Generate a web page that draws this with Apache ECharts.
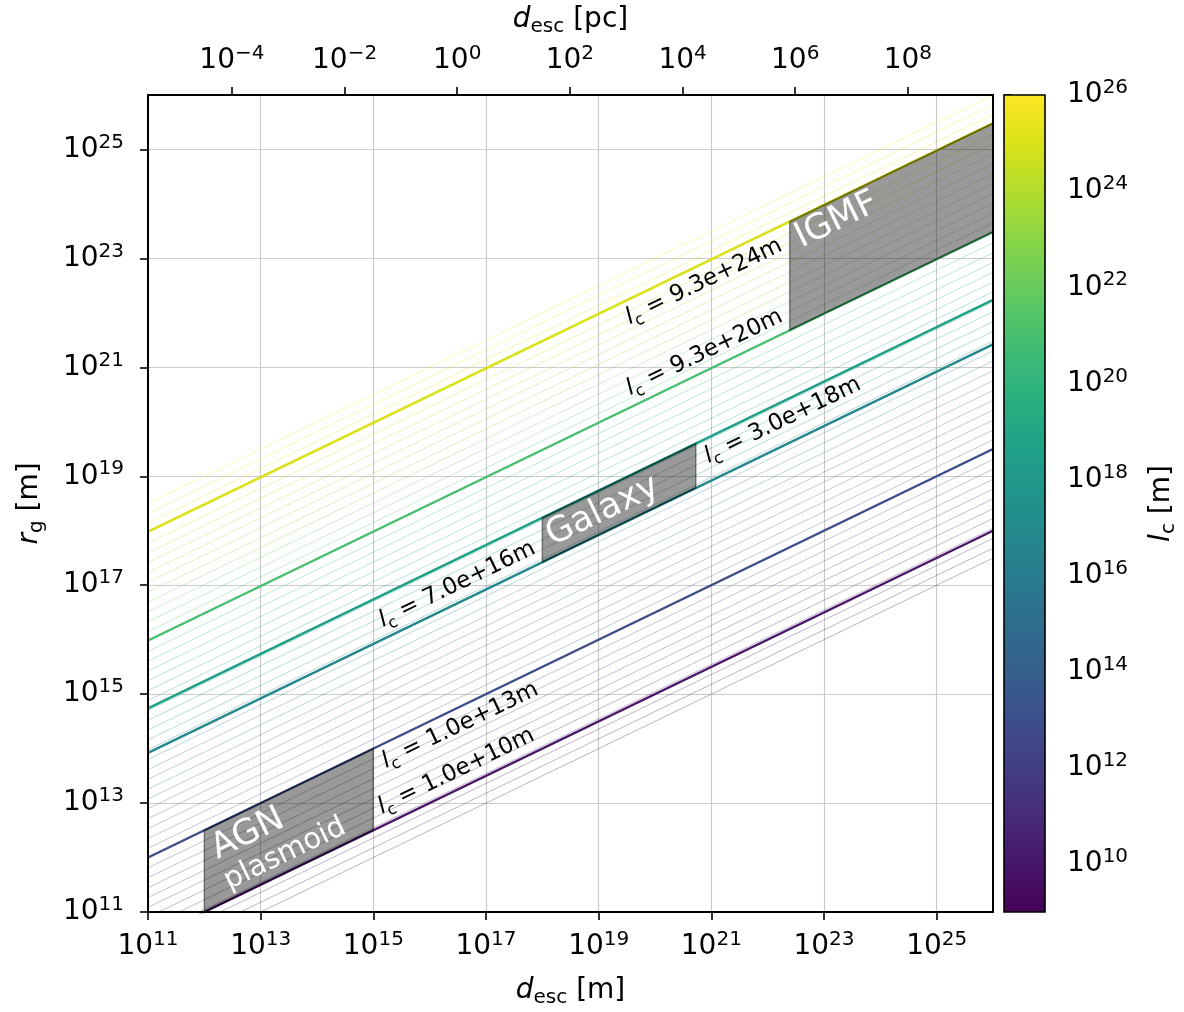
<!DOCTYPE html>
<html>
<head>
<meta charset="utf-8">
<script src="https://cdn.jsdelivr.net/npm/echarts@6/dist/echarts.min.js"></script>
<style>html,body{margin:0;padding:0;background:#fff}#chart{width:1184px;height:1012px}</style>
</head>
<body>
<div id="chart"></div>
<script>
// ---------------- data ----------------
const dRange = [1e11, 1e26];          // d_esc axis range [m]
const rgRange = [1e11, 1e26];         // r_g axis range [m]
const lcRange = [1e9, 1e26];          // colorbar range l_c [m]
const PC_IN_M = 3.0857e16;
const xTickValues = [1e11, 1e13, 1e15, 1e17, 1e19, 1e21, 1e23, 1e25];
const yTickValues = [1e11, 1e13, 1e15, 1e17, 1e19, 1e21, 1e23, 1e25];
const pcTickValues = [1e-4, 1e-2, 1e0, 1e2, 1e4, 1e6, 1e8];
const cbTickValues = [1e10, 1e12, 1e14, 1e16, 1e18, 1e20, 1e22, 1e24, 1e26];
// thin background lines: log10(l_c)
const thinLcExponents = [9.00, 9.36, 9.72, 10.09, 10.45, 10.81, 11.17, 11.53, 11.89, 12.26,
  12.62, 12.98, 13.34, 13.70, 14.06, 14.43, 14.79, 15.15, 15.51, 15.87, 16.23, 16.60,
  16.96, 17.32, 17.68, 18.04, 18.40, 18.77, 19.13, 19.49, 19.85, 20.21, 20.57, 20.94,
  21.30, 21.66, 22.02, 22.38, 22.74, 23.11, 23.47, 23.83, 24.19, 24.55, 24.91, 25.28,
  25.64, 26.00];
// shaded regions
const bandNames = ['AGN', 'Galaxy', 'IGMF'];
const bandDMin = [1e12, 1e18, 2.46e22];
const bandDMax = [1e15, 5.3e20, 1e26];
const bandLcLow = [1.0e10, 7.0e16, 9.3e20];
const bandLcHigh = [1.0e13, 3.0e18, 9.3e24];
// l_c labels
const lcLabelValues = [1.0e13, 1.0e10, 7.0e16, 3.0e18, 9.3e20, 9.3e24];
const lcLabelAnchorD = [1e15, 1e15, 1e18, 5.3e20, 2.46e22, 2.46e22];
const lcLabelSide = ['below', 'above', 'above', 'below', 'above', 'below'];
const lcLabelAlign = ['left', 'left', 'right', 'left', 'right', 'right'];
// region name texts
const regionTexts = ['AGN', 'plasmoid', 'Galaxy', 'IGMF'];
const regionTextD = [5.94e12, 2.70e13, 1.18e19, 1.68e23];
const regionTextRg = [2.70e12, 1.16e12, 2.28e18, 4.98e23];

// ---------------- helpers ----------------
const FONT = 'DejaVu Sans';
const regionTextSize = [35, 29, 35, 35];
const VIRIDIS = ['#440154', '#48186a', '#472d7b', '#424086', '#3b528b', '#33638d', '#2c728e',
  '#26828e', '#21918c', '#1fa088', '#28ae80', '#3fbc73', '#5ec962', '#84d44b', '#addc30',
  '#d8e219', '#fde725'];
function hex2rgb(h) { return [parseInt(h.slice(1, 3), 16), parseInt(h.slice(3, 5), 16), parseInt(h.slice(5, 7), 16)]; }
function viridis(t) {
  t = Math.max(0, Math.min(1, t));
  const n = VIRIDIS.length - 1;
  const i = Math.min(n - 1, Math.floor(t * n));
  const f = t * n - i;
  const a = hex2rgb(VIRIDIS[i]), b = hex2rgb(VIRIDIS[i + 1]);
  const c = a.map((v, k) => Math.round(v + (b[k] - v) * f));
  return 'rgb(' + c.join(',') + ')';
}
function lcColor(lc) {
  const l0 = Math.log10(lcRange[0]), l1 = Math.log10(lcRange[1]);
  return viridis((Math.log10(lc) - l0) / (l1 - l0));
}
function rg(d, lc) { return Math.sqrt(d * lc); }
function supLabel(e) {
  const s = e < 0 ? '\u2212' + Math.abs(e) : String(e);
  return '{b|10}{s|' + s + '}';
}
const tickRich = {
  b: { fontFamily: FONT, fontSize: 28, color: '#000', lineHeight: 34 },
  s: { fontFamily: FONT, fontSize: 20, color: '#000', lineHeight: 18, verticalAlign: 'top' }
};
const nameStyle = {
  fontFamily: FONT, fontSize: 28, color: '#000', lineHeight: 34,
  rich: {
    i: { fontFamily: FONT, fontSize: 28, fontStyle: 'italic', color: '#000', lineHeight: 34 },
    s: { fontFamily: FONT, fontSize: 20, color: '#000', lineHeight: 24, verticalAlign: 'bottom' }
  }
};
function slopeAngle(api) {
  const a = api.coord([1e11, 1e11]);
  const b = api.coord([1e25, 1e18]);
  return Math.atan2(a[1] - b[1], b[0] - a[0]);
}
const black = '#000';

// ---------------- series ----------------
const series = [];
thinLcExponents.forEach(function (e) {
  const lc = Math.pow(10, e);
  series.push({
    type: 'line', xAxisIndex: 0, yAxisIndex: 0, silent: true, animation: false,
    symbol: 'none', clip: true, z: 2,
    data: dRange.map(d => [d, rg(d, lc)]),
    lineStyle: { color: lcColor(lc), width: 1, opacity: 0.32 }
  });
});
const thickLc = bandLcLow.concat(bandLcHigh);
thickLc.forEach(function (lc) {
  series.push({
    type: 'line', xAxisIndex: 0, yAxisIndex: 0, silent: true, animation: false,
    symbol: 'none', clip: true, z: 3,
    data: dRange.map(d => [d, rg(d, lc)]),
    lineStyle: { color: lcColor(lc), width: 2.4, opacity: 1 }
  });
});
// shaded regions
series.push({
  type: 'custom', xAxisIndex: 0, yAxisIndex: 0, silent: true, animation: false, z: 5, clip: true,
  data: bandNames.map((n, i) => [bandDMin[i], rg(bandDMin[i], bandLcLow[i])]),
  renderItem: function (params, api) {
    const i = params.dataIndex;
    const d0 = bandDMin[i], d1 = bandDMax[i], lo = bandLcLow[i], hi = bandLcHigh[i];
    const pts = [[d0, rg(d0, lo)], [d1, rg(d1, lo)], [d1, rg(d1, hi)], [d0, rg(d0, hi)]].map(p => api.coord(p));
    return { type: 'polygon', shape: { points: pts },
      style: { fill: 'rgba(0,0,0,0.4)', stroke: 'rgba(0,0,0,0.4)', lineWidth: 1.6 } };
  }
});
// l_c labels
series.push({
  type: 'custom', xAxisIndex: 0, yAxisIndex: 0, silent: true, animation: false, z: 8,
  data: lcLabelValues.map((lc, i) => [lcLabelAnchorD[i], rg(lcLabelAnchorD[i], lc)]),
  renderItem: function (params, api) {
    const i = params.dataIndex;
    const lc = lcLabelValues[i], d = lcLabelAnchorD[i];
    const p = api.coord([d, rg(d, lc)]);
    const th = slopeAngle(api);
    const ux = Math.cos(th), uy = -Math.sin(th);
    const nx = Math.sin(th), ny = Math.cos(th);
    const left = lcLabelAlign[i] === 'left', below = lcLabelSide[i] === 'below';
    const along = left ? (below ? 3 : 15) : (below ? -18 : -1);
    const perp = below ? 2 : -2;
    const txt = '{i|l}{s|c} = ' + lc.toExponential(1) + 'm';
    return {
      type: 'text', x: p[0] + ux * along + nx * perp, y: p[1] + uy * along + ny * perp, rotation: th,
      style: {
        text: txt, fill: black, fontFamily: FONT, fontSize: 23, lineHeight: 30,
        align: lcLabelAlign[i], verticalAlign: below ? 'top' : 'bottom',
        rich: {
          i: { fontFamily: FONT, fontSize: 23, fontStyle: 'italic', lineHeight: 30, fill: black },
          s: { fontFamily: FONT, fontSize: 16, lineHeight: 20, verticalAlign: 'bottom', fill: black }
        }
      }
    };
  }
});
// region names
series.push({
  type: 'custom', xAxisIndex: 0, yAxisIndex: 0, silent: true, animation: false, z: 8,
  data: regionTexts.map((t, i) => [regionTextD[i], regionTextRg[i]]),
  renderItem: function (params, api) {
    const i = params.dataIndex;
    const p = api.coord([regionTextD[i], regionTextRg[i]]);
    return {
      type: 'text', x: p[0], y: p[1], rotation: slopeAngle(api),
      style: { text: regionTexts[i], fill: '#fff', fontFamily: FONT, fontSize: regionTextSize[i],
        align: 'center', verticalAlign: 'middle' }
    };
  }
});
// frame of the main axes
series.push({
  type: 'custom', xAxisIndex: 0, yAxisIndex: 0, silent: true, animation: false, z: 20, clip: false,
  data: [[dRange[0], rgRange[0]]],
  renderItem: function (params, api) {
    const a = api.coord([dRange[0], rgRange[0]]), b = api.coord([dRange[1], rgRange[1]]);
    return { type: 'rect', shape: { x: a[0], y: b[1], width: b[0] - a[0], height: a[1] - b[1] },
      style: { fill: 'none', stroke: black, lineWidth: 2 } };
  }
});
// colorbar
const cbStops = [];
for (let k = 0; k <= 64; k++) cbStops.push({ offset: k / 64, color: viridis(k / 64) });
series.push({
  type: 'custom', xAxisIndex: 2, yAxisIndex: 2, silent: true, animation: false, z: 5, clip: false,
  data: [[0, lcRange[0]]],
  renderItem: function (params, api) {
    const a = api.coord([0, lcRange[0]]), b = api.coord([1, lcRange[1]]);
    return { type: 'rect', shape: { x: a[0], y: b[1], width: b[0] - a[0], height: a[1] - b[1] },
      style: { fill: new echarts.graphic.LinearGradient(0, 1, 0, 0, cbStops), stroke: black, lineWidth: 1.6 } };
  }
});

const chart = echarts.init(document.getElementById('chart'), null, { renderer: 'canvas' });
chart.setOption({
  animation: false,
  backgroundColor: '#fff',
  grid: [
    { left: 148, top: 95, width: 845, height: 817, containLabel: false, outerBoundsMode: 'none' },
    { left: 1004, top: 95, width: 41, height: 817, containLabel: false, outerBoundsMode: 'none' }
  ],
  xAxis: [
    {
      type: 'log', gridIndex: 0, min: dRange[0], max: dRange[1], position: 'bottom',
      axisLine: { show: true, onZero: false, lineStyle: { color: black, width: 2 } },
      axisTick: { show: true, length: 8, inside: false, lineStyle: { color: black, width: 1.6 }, customValues: xTickValues },
      axisLabel: { show: true, customValues: xTickValues, margin: 18, formatter: v => supLabel(Math.round(Math.log10(v))), rich: tickRich, color: black },
      splitLine: { show: true, lineStyle: { color: '#cbcbcb', width: 1.2 } },
      minorTick: { show: false }, minorSplitLine: { show: false },
      name: '{i|d}{s|esc} [m]', nameLocation: 'middle', nameGap: 62, nameTextStyle: nameStyle, nameMoveOverlap: false
    },
    {
      type: 'log', gridIndex: 0, min: dRange[0], max: dRange[1], position: 'top',
      axisLine: { show: true, onZero: false, lineStyle: { color: black, width: 2 } },
      axisTick: { show: true, length: 8, inside: false, lineStyle: { color: black, width: 1.6 }, customValues: pcTickValues.map(v => v * PC_IN_M) },
      axisLabel: { show: true, customValues: pcTickValues.map(v => v * PC_IN_M), margin: 17, formatter: v => supLabel(Math.round(Math.log10(v / PC_IN_M))), rich: tickRich, color: black },
      splitLine: { show: false }, minorTick: { show: false },
      name: '{i|d}{s|esc} [pc]', nameLocation: 'middle', nameGap: 58, nameTextStyle: nameStyle, nameMoveOverlap: false
    },
    { type: 'value', gridIndex: 1, min: 0, max: 1, show: false }
  ],
  yAxis: [
    {
      type: 'log', gridIndex: 0, min: rgRange[0], max: rgRange[1], position: 'left',
      axisLine: { show: true, onZero: false, lineStyle: { color: black, width: 2 } },
      axisTick: { show: true, length: 8, inside: false, lineStyle: { color: black, width: 1.6 }, customValues: yTickValues },
      axisLabel: { show: true, customValues: yTickValues, margin: 24, formatter: v => supLabel(Math.round(Math.log10(v))), rich: tickRich, color: black },
      splitLine: { show: true, lineStyle: { color: '#cbcbcb', width: 1.2 } },
      minorTick: { show: false }, minorSplitLine: { show: false },
      name: '{i|r}{s|g} [m]', nameLocation: 'middle', nameGap: 101, nameRotate: 90, nameTextStyle: nameStyle, nameMoveOverlap: false
    },
    {
      type: 'log', gridIndex: 0, min: rgRange[0], max: rgRange[1], position: 'right',
      axisLine: { show: true, onZero: false, lineStyle: { color: black, width: 2 } },
      axisTick: { show: false }, axisLabel: { show: false }, splitLine: { show: false }
    },
    {
      type: 'log', gridIndex: 1, min: lcRange[0], max: lcRange[1] * 1.000001, position: 'right',
      axisLine: { show: false },
      axisTick: { show: true, length: 8, inside: false, lineStyle: { color: black, width: 1.6 }, customValues: cbTickValues },
      axisLabel: { show: true, customValues: cbTickValues, margin: 22, showMaxLabel: true, formatter: v => supLabel(Math.round(Math.log10(v))), rich: tickRich, color: black },
      splitLine: { show: false }, minorTick: { show: false },
      name: '{i|l}{s|c} [m]', nameLocation: 'middle', nameGap: 100, nameRotate: 90, nameTextStyle: nameStyle, nameMoveOverlap: false
    }
  ],
  series: series
});
</script>
</body>
</html>
